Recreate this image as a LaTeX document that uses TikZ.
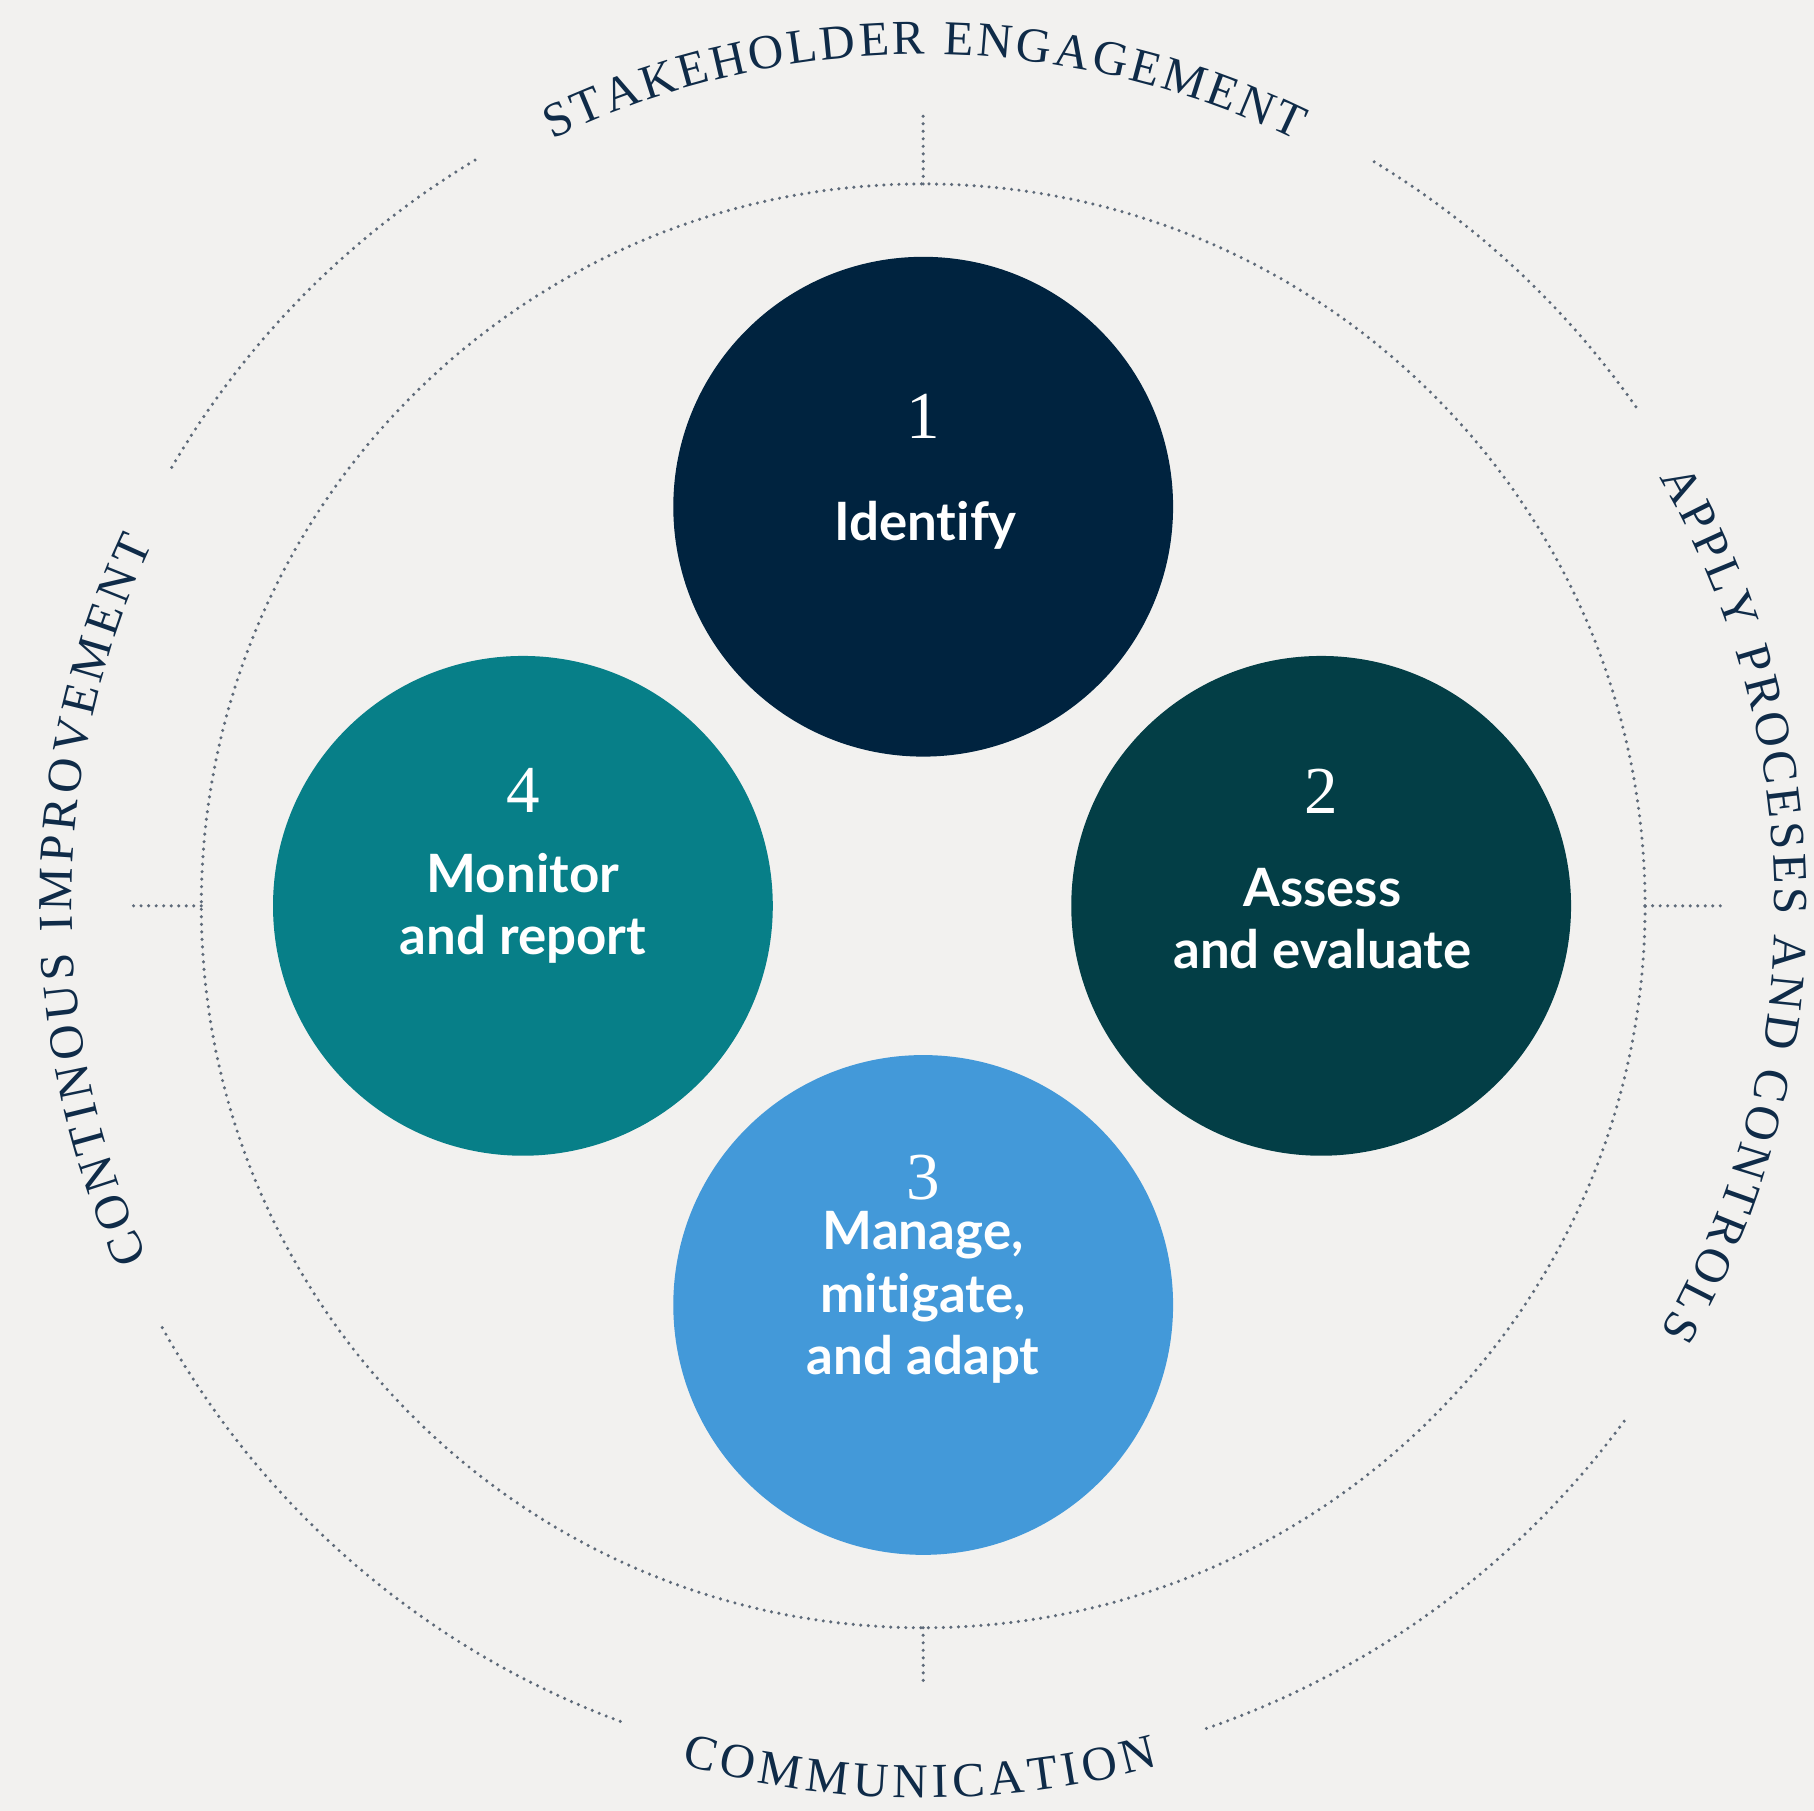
\documentclass[tikz,border=0pt]{standalone}
\usepackage{fontspec}
\setmainfont{Liberation Serif}
\newfontfamily\labelfont[Ligatures=NoCommon]{Lato}
\usepackage{tikz}
\usetikzlibrary{decorations.text}

\definecolor{paper}{HTML}{F2F1EF}
\definecolor{ink}{HTML}{0F2B48}
\definecolor{dotgrey}{HTML}{5E6A79}
\definecolor{stepone}{HTML}{00233F}
\definecolor{steptwo}{HTML}{033E46}
\definecolor{stepthree}{HTML}{4399D9}
\definecolor{stepfour}{HTML}{077F88}

\newcommand{\ringfont}{\fontsize{12}{13}\selectfont}

\begin{document}
\begin{tikzpicture}[
        ringdots/.style={draw=dotgrey, line width=0.85pt, line cap=round, dash pattern=on 0pt off 1.85pt},
        ringtext/.style={decorate, decoration={text along path, text align={fit to path}, text color=ink}}]
        \fill[paper] (-7.98,-7.82) rectangle (7.70,7.83);
        \useasboundingbox (-7.98,-7.82) rectangle (7.70,7.83);

        % dotted rings and ticks
        \draw[ringdots] (0,0) circle[radius=6.24];
        \draw[ringdots] (90:6.24) -- (90:6.88);
        \draw[ringdots] (270:6.24) -- (270:6.73);
        \draw[ringdots] (180:6.24) -- (180:6.87);
        \draw[ringdots] (0:6.24) -- (0:6.90);
        \foreach \a/\b in {35/59, 121/150, 209/250, 289/324}
            \draw[ringdots] (\a:7.52) arc[start angle=\a, end angle=\b, radius=7.52];

        % outer captions
        \path[ringtext, decoration={text={|\ringfont|STAKEHOLDER ENGAGEMENT}}]
            (115.8:7.36) arc[start angle=115.8, end angle=64.0, radius=7.36];
        \path[ringtext, decoration={text={|\ringfont|APPLY PROCESES AND CONTROLS}}]
            (30.2:7.36) arc[start angle=30.2, end angle=-30.0, radius=7.36];
        \path[ringtext, decoration={text={|\ringfont|COMMUNICATION}}]
            (254.3:7.71) arc[start angle=254.3, end angle=285.3, radius=7.71];
        \path[ringtext, decoration={text={|\ringfont|CONTINOUS IMPROVEMENT}}]
            (204.4:7.36) arc[start angle=204.4, end angle=154.8, radius=7.36];

        \begin{scope}[every node/.style={circle, minimum size=4.32cm, inner sep=0pt}]
            \node[fill=stepone] (S1) at (0,3.45) {};
            \node[fill=steptwo] (S2) at (3.44,0) {};
            \node[fill=stepthree] (S3) at (0,-3.45) {};
            \node[fill=stepfour] (S4) at (-3.46,0) {};
        \end{scope}

        \begin{scope}[every node/.style={text=white, font=\fontsize{16.5}{18}\selectfont}]
            \node (N1) at (0,4.23) {1};
            \node (N2) at (3.44,0.99) {2};
            \node (N3) at (0,-2.35) {3};
            \node (N4) at (-3.46,1.00) {4};
        \end{scope}

        % base anchor sits on the last line
        \begin{scope}[every node/.style={text=white, align=center, anchor=base,
                      font=\labelfont\bfseries\fontsize{13}{15.3}\selectfont}]
            \node (L1) at (0.02,3.16) {Identify};
            \node (L2) at (3.45,-0.54) {Assess\\and evaluate};
            \node (L3) at (0,-4.05) {Manage,\\mitigate,\\and adapt};
            \node (L4) at (-3.46,-0.42) {Monitor\\and report};
        \end{scope}
    \end{tikzpicture}
\end{document}
